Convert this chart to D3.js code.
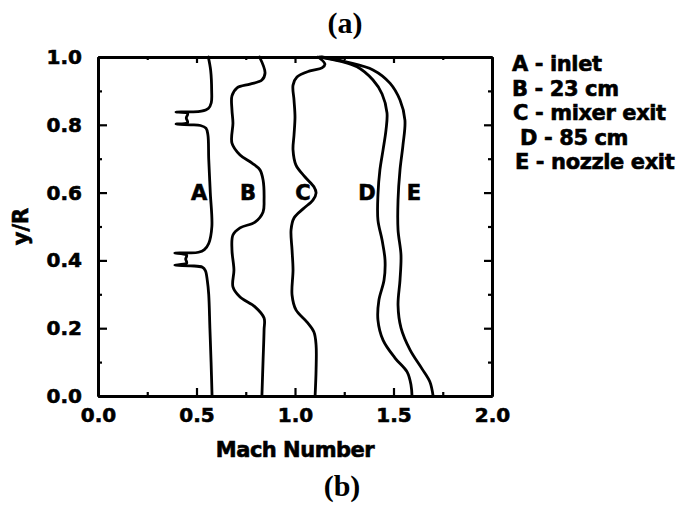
<!DOCTYPE html>
<html><head><meta charset="utf-8">
<script src="https://cdn.jsdelivr.net/npm/d3@7/dist/d3.min.js"></script>
<style>body{margin:0;background:#fff}</style>
</head><body><svg id="c" width="681" height="512"></svg>
<script>
const xTickValues = [0, 0.5, 1.0, 1.5, 2.0];
const xMinorTicks = [0.25, 0.75, 1.25, 1.75];
const yTickValues = [0, 0.2, 0.4, 0.6, 0.8, 1.0];
const yMinorTicks = [0.1, 0.3, 0.5, 0.7, 0.9];
const seriesNames = ["A", "B", "C", "D", "E"];
const legendLabels = ["A - inlet", "B - 23 cm", "C - mixer exit", "D - 85 cm", "E - nozzle exit"];
const labelMach = [0.513, 0.761, 1.041, 1.365, 1.604];
const labelYR = [0.6, 0.6, 0.6, 0.6, 0.6];

const curveA_y = [1.0,0.96,0.90,0.865,0.848,0.840,0.838,0.838,0.833,0.820,0.807,0.802,0.800,0.798,0.790,0.770,0.700,0.600,0.500,0.450,0.432,0.424,0.422,0.422,0.415,0.404,0.392,0.386,0.384,0.380,0.370,0.340,0.300,0.200,0.100,0.0];
const curveA_m = [0.560,0.572,0.577,0.575,0.560,0.525,0.470,0.396,0.455,0.448,0.455,0.396,0.470,0.520,0.548,0.558,0.562,0.570,0.578,0.562,0.540,0.510,0.460,0.390,0.450,0.445,0.450,0.390,0.470,0.530,0.545,0.555,0.562,0.568,0.574,0.579];

const curveB_y = [1.0,0.953,0.932,0.920,0.909,0.885,0.844,0.805,0.746,0.711,0.687,0.667,0.637,0.578,0.543,0.513,0.496,0.475,0.431,0.372,0.322,0.292,0.263,0.230,0.195,0.106,0.0];
const curveB_m = [0.820,0.848,0.832,0.772,0.706,0.680,0.680,0.685,0.680,0.721,0.782,0.822,0.838,0.843,0.838,0.797,0.721,0.685,0.680,0.690,0.685,0.721,0.797,0.843,0.843,0.838,0.832];

const curveC_y = [1.0,0.979,0.968,0.959,0.941,0.917,0.873,0.823,0.770,0.726,0.681,0.646,0.617,0.599,0.578,0.552,0.525,0.490,0.431,0.372,0.298,0.254,0.218,0.189,0.150,0.077,0.0];
const curveC_m = [1.117,1.152,1.137,1.076,1.010,0.990,0.995,1.000,0.995,0.990,1.005,1.051,1.096,1.107,1.091,1.041,0.995,0.980,0.985,0.990,0.985,1.005,1.061,1.096,1.107,1.107,1.102];

const curveD_y = [1.0,0.988,0.971,0.932,0.891,0.835,0.785,0.726,0.667,0.593,0.519,0.460,0.401,0.342,0.283,0.224,0.165,0.112,0.071,0.032,0.0];
const curveD_m = [1.127,1.228,1.315,1.396,1.442,1.467,1.462,1.447,1.431,1.421,1.421,1.442,1.457,1.452,1.426,1.421,1.447,1.508,1.569,1.589,1.594];

const curveE_y = [1.0,0.985,0.962,0.923,0.873,0.814,0.740,0.667,0.578,0.490,0.416,0.342,0.268,0.201,0.136,0.080,0.041,0.0];
const curveE_m = [1.137,1.264,1.396,1.482,1.533,1.558,1.548,1.533,1.523,1.523,1.538,1.533,1.523,1.538,1.584,1.645,1.685,1.701];

const curves = [
  {y: curveA_y, m: curveA_m},
  {y: curveB_y, m: curveB_m},
  {y: curveC_y, m: curveC_m},
  {y: curveD_y, m: curveD_m},
  {y: curveE_y, m: curveE_m}
];

const svg = d3.select("#c");
const L = 98, R = 492, T = 57, B = 396;
const x = d3.scaleLinear().domain([0, 2]).range([L, R]);
const y = d3.scaleLinear().domain([0, 1]).range([B, T]);
const sans = "'DejaVu Sans', sans-serif";

function heavy(sel, size) {
  sel.style("font-family", sans).style("font-weight", "bold").style("font-size", size + "px")
    .attr("fill", "#000").attr("stroke", "#000").attr("stroke-width", 0.6);
}

function styleAxis(g, showLabels) {
  g.select(".domain").attr("stroke", "#000").attr("stroke-width", 3);
  g.selectAll(".tick line").attr("stroke", "#000").attr("stroke-width", 2.2);
  g.selectAll(".tick text").call(heavy, 20);
  if (!showLabels) g.selectAll(".tick text").remove();
}

// Bottom
svg.append("g").attr("transform", `translate(0,${B})`)
  .call(d3.axisBottom(x).tickValues(xTickValues).tickSize(-8).tickSizeOuter(0).tickPadding(12).tickFormat(d3.format(".1f")))
  .call(g => styleAxis(g, true));
svg.append("g").attr("transform", `translate(0,${B})`)
  .call(d3.axisBottom(x).tickValues(xMinorTicks).tickSize(-4).tickSizeOuter(0).tickFormat(""))
  .call(g => styleAxis(g, false));
// Top
svg.append("g").attr("transform", `translate(0,${T})`)
  .call(d3.axisTop(x).tickValues(xTickValues).tickSize(-6).tickSizeOuter(0).tickFormat(""))
  .call(g => styleAxis(g, false));
svg.append("g").attr("transform", `translate(0,${T})`)
  .call(d3.axisTop(x).tickValues(xMinorTicks).tickSize(-3).tickSizeOuter(0).tickFormat(""))
  .call(g => styleAxis(g, false));
// Left
svg.append("g").attr("transform", `translate(${L},0)`)
  .call(d3.axisLeft(y).tickValues(yTickValues).tickSize(-9).tickSizeOuter(0).tickPadding(16).tickFormat(d3.format(".1f")))
  .call(g => styleAxis(g, true));
svg.append("g").attr("transform", `translate(${L},0)`)
  .call(d3.axisLeft(y).tickValues(yMinorTicks).tickSize(-4).tickSizeOuter(0).tickFormat(""))
  .call(g => styleAxis(g, false));
// Right
svg.append("g").attr("transform", `translate(${R},0)`)
  .call(d3.axisRight(y).tickValues(yTickValues).tickSize(-8).tickSizeOuter(0).tickFormat(""))
  .call(g => styleAxis(g, false));
svg.append("g").attr("transform", `translate(${R},0)`)
  .call(d3.axisRight(y).tickValues(yMinorTicks).tickSize(-4).tickSizeOuter(0).tickFormat(""))
  .call(g => styleAxis(g, false));

// Curves
const line = d3.line().x(d => x(d[1])).y(d => y(d[0])).curve(d3.curveCatmullRom.alpha(0.5));
curves.forEach(c => {
  svg.append("path").datum(c.y.map((v, i) => [v, c.m[i]]))
    .attr("d", line).attr("fill", "none").attr("stroke", "#000")
    .attr("stroke-width", 2.8).attr("stroke-linejoin", "round").attr("stroke-linecap", "round");
});

// Curve labels
svg.selectAll("text.lab").data(seriesNames).enter().append("text")
  .attr("class", "lab")
  .attr("x", (d, i) => x(labelMach[i])).attr("y", (d, i) => y(labelYR[i]))
  .attr("dy", "0.36em").attr("text-anchor", "middle")
  .call(heavy, 21)
  .text(d => d);

// Legend
const legendDx = [0, 0, 1, 8, 3];
svg.selectAll("text.leg").data(legendLabels).enter().append("text")
  .attr("class", "leg")
  .attr("x", (d, i) => 512 + legendDx[i]).attr("y", (d, i) => 71 + i * 24.5)
  .call(heavy, 21)
  .style("letter-spacing", "-0.4px")
  .text(d => d);

// Axis titles
svg.append("text").attr("x", (L + R) / 2).attr("y", 457).attr("text-anchor", "middle")
  .call(heavy, 21)
  .style("letter-spacing", "-0.5px").text("Mach Number");
svg.append("text").attr("transform", `translate(28,${(T + B) / 2}) rotate(-90)`)
  .attr("text-anchor", "middle")
  .call(heavy, 21)
  .text("y/R");

// Panel captions
svg.append("text").attr("x", 345).attr("y", 33).attr("text-anchor", "middle")
  .style("font-family", "'Liberation Serif', serif").style("font-weight", "bold").style("font-size", "30px")
  .text("(a)");
svg.append("text").attr("x", 342).attr("y", 496).attr("text-anchor", "middle")
  .style("font-family", "'Liberation Serif', serif").style("font-weight", "bold").style("font-size", "30px")
  .text("(b)");
</script></body></html>
